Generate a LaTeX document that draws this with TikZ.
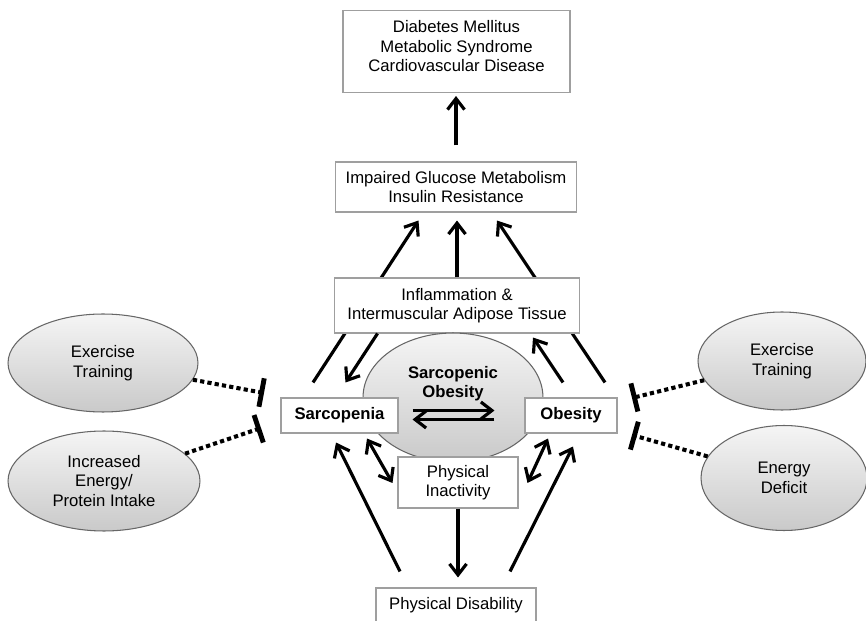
\documentclass[tikz,border=0pt]{standalone}
\usepackage{fontspec}
\setmainfont{Liberation Sans}
\usetikzlibrary{arrows.meta,shapes.geometric,backgrounds}
\newcommand\diagfont{\fontsize{9.5}{11.1}\selectfont}
\begin{document}
\begin{tikzpicture}[x=0.02cm,y=-0.02cm,font=\diagfont,
    box/.style={draw=gray!75,line width=0.6pt,fill=white,align=center,inner sep=0pt},
    bold/.style={font=\diagfont\bfseries},
    blob/.style={ellipse,draw=gray!80!black,line width=0.6pt,top color=gray!8,bottom color=gray!42,align=center,inner sep=0pt},
    arr/.style={line width=1.8pt,-{Straight Barb[length=2.2mm,width=3.4mm]}},
    twoway/.style={line width=1.8pt,{Straight Barb[length=2.2mm,width=3.4mm]}-{Straight Barb[length=2.2mm,width=3.4mm]}},
    block/.style={line width=2.3pt,dash pattern=on 2.4pt off 1.8pt,-{Bar[width=5.8mm,line width=2.8pt]}}]
    \useasboundingbox (0,0) rectangle (866,621);
    % outcome boxes
    \node[box,minimum width=4.54cm,minimum height=1.64cm] (disease) at (456.5,51.5) {Diabetes Mellitus\\Metabolic Syndrome\\Cardiovascular Disease\\[-5pt]\mbox{}};
    \node[box,minimum width=4.82cm,minimum height=1cm] (glucose) at (456,187) {Impaired Glucose Metabolism\\Insulin Resistance};
    \node[box,minimum width=4.9cm,minimum height=1.1cm] (inflam) at (457,305.5) {Inflammation \&\\Intermuscular Adipose Tissue};
    % centre
    \node[blob,minimum width=3.6cm,minimum height=2.58cm,
        label={[bold,align=center,yshift=0.28cm]center:Sarcopenic\\Obesity}] (sarcob) at (453,397.5) {};
    \node[box,bold,minimum width=2.34cm,minimum height=0.7cm] (sarco) at (339.5,415.5) {Sarcopenia};
    \node[box,bold,minimum width=1.84cm,minimum height=0.7cm] (obes) at (571,415.5) {Obesity};
    \node[box,minimum width=2.4cm,minimum height=1.02cm] (inact) at (458,482.5) {Physical\\Inactivity};
    \node[box,minimum width=3.2cm,minimum height=0.68cm] (disab) at (456,605) {Physical Disability};
    % interventions
    \node[blob,minimum width=3.8cm,minimum height=1.96cm] (exleft) at (103,363) {Exercise\\Training};
    \node[blob,minimum width=3.84cm,minimum height=2cm] (intake) at (104,481) {Increased\\Energy/\\Protein Intake};
    \node[blob,minimum width=3.36cm,minimum height=1.96cm] (exright) at (782,361) {Exercise\\Training};
    \node[blob,minimum width=3.32cm,minimum height=2.1cm] (deficit) at (784,478) {Energy\\Deficit};
    \coordinate (stopL1) at (264,393);
    \coordinate (stopL2) at (261,428);
    \coordinate (stopR1) at (632,398);
    \coordinate (stopR2) at (632,435);

    \begin{scope}[on background layer]
        \draw[arr] ([shift={(-26.5,-15)}]sarco.north) -- ([shift={(-37.5,8)}]glucose.south);
        \draw[arr] ([shift={(34,-15)}]obes.north) -- ([shift={(41,8)}]glucose.south);
    \end{scope}
    \draw[arr,shorten <=0.32cm,shorten >=0.06cm] (glucose.north) -- (glucose.north |- disease.south);
    \draw[arr,shorten >=0.16cm] (inflam.north) -- (inflam.north |- glucose.south);
    \draw[arr] ([shift={(-79.5,0)}]inflam.south) -- ([shift={(6,-15)}]sarco.north);
    \draw[arr] ([shift={(-8,-15)}]obes.north) -- ([shift={(76,4)}]inflam.south);
    \draw[arr] ([shift={(14,-5)}]sarco.east) -- ([shift={(-30,-5)}]obes.west);
    \draw[arr] ([shift={(-30,4)}]obes.west) -- ([shift={(14,4)}]sarco.east);
    \draw[twoway] ([shift={(27.5,5)}]sarco.south) -- ([shift={(-5,0.5)}]inact.west);
    \draw[twoway] ([shift={(-23,5)}]obes.south) -- ([shift={(9,0.5)}]inact.east);
    \draw[arr,shorten >=0.2cm] (inact.south) -- (inact.south |- disab.north);
    \draw[arr] ([shift={(-56,-16)}]disab.north) -- ([shift={(-3.5,9)}]sarco.south);
    \draw[arr] ([shift={(54,-16)}]disab.north) -- ([shift={(2,13)}]obes.south);
    % blocking effects
    \draw[block] (exleft) -- (stopL1);
    \draw[block] (intake) -- (stopL2);
    \draw[block] (exright) -- (stopR1);
    \draw[block] (deficit) -- (stopR2);
\end{tikzpicture}
\end{document}
